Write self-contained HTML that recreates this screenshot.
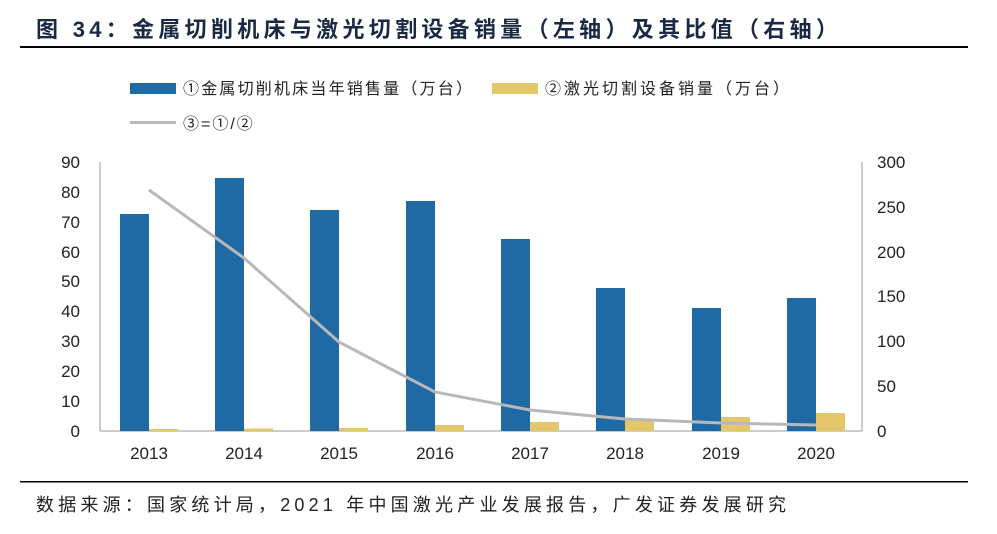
<!DOCTYPE html>
<html><head><meta charset="utf-8"><style>
body{margin:0;background:#fff;}
svg{display:block;font-family:"Liberation Sans","Noto Sans CJK SC",sans-serif;}
</style></head><body>
<svg width="997" height="534" viewBox="0 0 997 534">
<text x="36" y="37" font-size="22" font-weight="bold" fill="#1a2a44" letter-spacing="4.3">图 34：金属切削机床与激光切割设备销量（左轴）及其比值（右轴）</text>
<rect x="20" y="46" width="948" height="2" fill="#000"/>
<rect x="130" y="83" width="46" height="11" fill="#1f6aa5"/>
<text x="183" y="94" font-size="16" fill="#222" letter-spacing="2.2">①金属切削机床当年销售量（万台）</text>
<rect x="492" y="83" width="46" height="11" fill="#e3c76a"/>
<text x="545" y="94" font-size="16" fill="#222" letter-spacing="3">②激光切割设备销量（万台）</text>
<rect x="130" y="121" width="46" height="3" fill="#b8b8b8"/>
<text x="183" y="129" font-size="16" fill="#222" letter-spacing="2">③=①/②</text>
<g stroke="#999" stroke-width="1">
<line x1="100" y1="162" x2="100" y2="431"/>
<line x1="862" y1="162" x2="862" y2="431"/>
<line x1="100" y1="431" x2="862" y2="431"/>
</g>
<g font-size="17" fill="#222" text-anchor="end">
<text x="80" y="437">0</text><text x="80" y="407">10</text><text x="80" y="377">20</text><text x="80" y="347">30</text><text x="80" y="317">40</text><text x="80" y="287">50</text><text x="80" y="258">60</text><text x="80" y="228">70</text><text x="80" y="198">80</text><text x="80" y="168">90</text>
</g>
<g font-size="17" fill="#222">
<text x="877" y="437">0</text><text x="877" y="392">50</text><text x="877" y="347">100</text><text x="877" y="302">150</text><text x="877" y="258">200</text><text x="877" y="213">250</text><text x="877" y="168">300</text>
</g>
<g fill="#1f6aa5">
<rect x="120" y="214" width="29" height="217"/>
<rect x="215" y="178" width="29" height="253"/>
<rect x="310" y="210" width="29" height="221"/>
<rect x="406" y="201" width="29" height="230"/>
<rect x="501" y="239" width="29" height="192"/>
<rect x="596" y="288" width="29" height="143"/>
<rect x="692" y="308" width="29" height="123"/>
<rect x="787" y="298" width="29" height="133"/>
</g>
<g fill="#e3c76a">
<rect x="149" y="429" width="29" height="2"/>
<rect x="244" y="428.5" width="29" height="2.5"/>
<rect x="339" y="428" width="29" height="3"/>
<rect x="435" y="425" width="29" height="6"/>
<rect x="530" y="422" width="29" height="9"/>
<rect x="625" y="419" width="29" height="12"/>
<rect x="721" y="417" width="29" height="14"/>
<rect x="816" y="413" width="29" height="18"/>
</g>
<polyline fill="none" stroke="#b8b8b8" stroke-width="3" points="149,190 244,258 339,342 435,392 530,410 625,419 721,423 816,425"/>
<g font-size="17" fill="#222" text-anchor="middle">
<text x="149" y="459">2013</text><text x="244" y="459">2014</text><text x="339" y="459">2015</text><text x="435" y="459">2016</text><text x="530" y="459">2017</text><text x="625" y="459">2018</text><text x="721" y="459">2019</text><text x="816" y="459">2020</text>
</g>
<rect x="20" y="481" width="948" height="1.5" fill="#000"/>
<text x="36" y="511" font-size="18" fill="#222" letter-spacing="4.2">数据来源：国家统计局，2021 年中国激光产业发展报告，广发证券发展研究</text>
</svg>
</body></html>
